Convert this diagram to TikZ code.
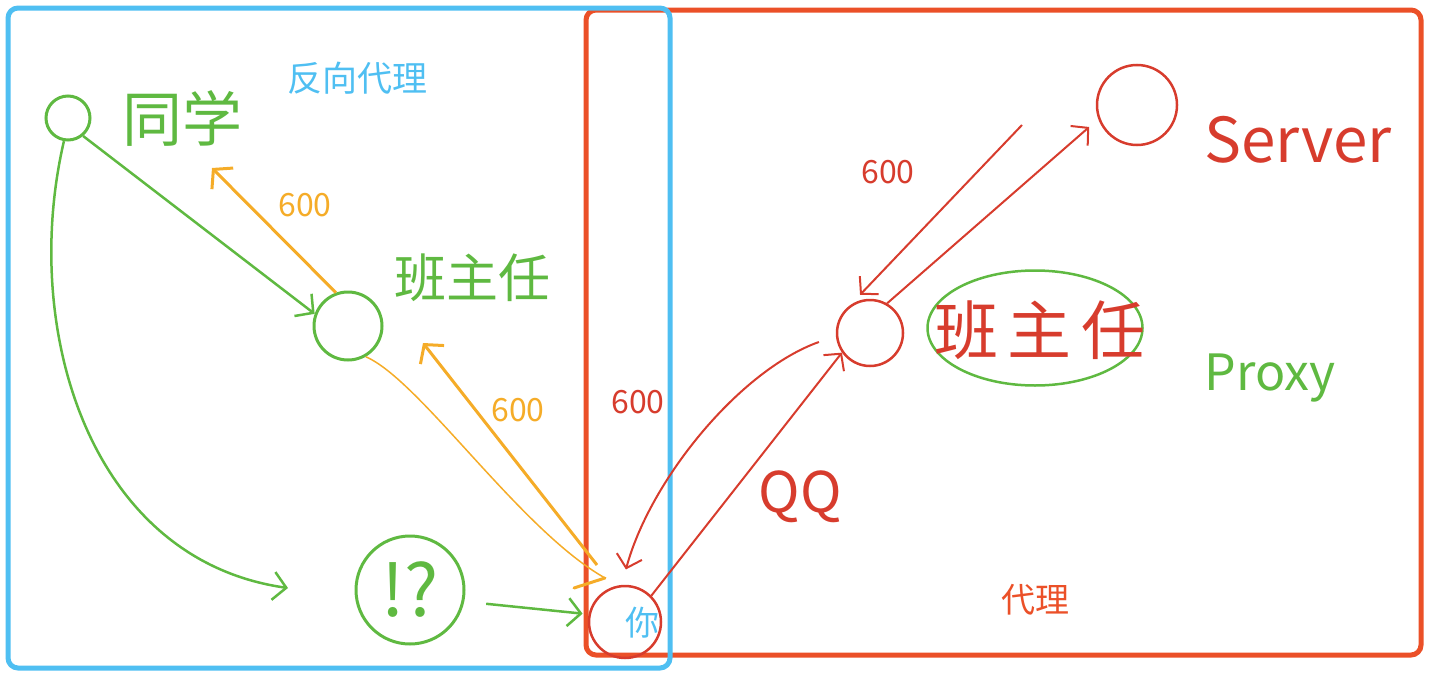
\documentclass[tikz,border=0pt]{standalone}
\usepackage{fontspec}
\newfontfamily\cjk{Noto Sans CJK SC}
\usetikzlibrary{arrows.meta, shapes.geometric, positioning}
\definecolor{bblue}{RGB}{79, 191, 242}
\definecolor{rframe}{RGB}{235, 80, 40}
\definecolor{grn}{RGB}{95, 185, 65}
\definecolor{org}{RGB}{245, 172, 40}
\definecolor{rpen}{RGB}{215, 60, 45}

\begin{document}
\begin{tikzpicture}[x=1pt, y=-1pt,
  txt/.style={font=\cjk\fontsize{#1pt}{#1pt}\selectfont, inner sep=0pt},
  gcirc/.style={circle, draw=grn, line width=3pt, inner sep=0pt},
  rcirc/.style={circle, draw=rpen, line width=2.5pt, inner sep=0pt},
  gline/.style={draw=grn, line width=2.5pt, -{Straight Barb[length=13pt, width=28pt]}},
  oline/.style={draw=org, line width=3pt, -{Straight Barb[length=13pt, width=30pt]}},
  rline/.style={draw=rpen, line width=2pt, -{Straight Barb[length=12pt, width=26pt]}}
]
  \useasboundingbox (0,0) rectangle (1448,680);

  % two frames
  \draw[rframe, line width=5pt, rounded corners=10pt] (586,10) rectangle (1421,655);
  \draw[bblue, line width=5pt, rounded corners=10pt] (8,8) rectangle (670,668);

  \node[txt=35, text=bblue] (fxdl) at (357,78) {反向代理};
  \node[txt=34, text=rframe] (dl) at (1035,600) {代理};

  % left side: reverse proxy
  \node[gcirc, minimum size=44pt] (tongxue) at (68,118) {};
  \node[txt=60, text=grn] (tongxueT) at (182,118) {同学};
  \node[gcirc, minimum size=68pt] (bzrL) at (348,326) {};
  \node[txt=52, text=grn] (bzrLT) at (472,278) {班主任};
  \node[gcirc, minimum size=108pt, txt=72, text=grn] (wenhao) at (410,590) {!?};

  % you
  \node[rcirc, minimum size=72pt] (ni) at (625,622) {};
  \node[txt=34, text=bblue] (niT) at (642,623) {你};

  % right side: proxy
  \node[rcirc, minimum size=66pt] (bzrR) at (870,333) {};
  \node[ellipse, draw=grn, line width=2.5pt, minimum width=215pt, minimum height=115pt] (quan) at (1035,328) {};
  \node[txt=64, text=rpen] (bzrRT) at (1040,330) {班\hspace{10pt}主\hspace{10pt}任};
  \node[txt=50, text=grn] (proxyT) at (1270,378) {Proxy};
  \node[rcirc, minimum size=80pt] (server) at (1137,105) {};
  \node[txt=62, text=rpen] (serverT) at (1298,140) {Server};

  % labels on the arrows
  \node[txt=32, text=org] (n600a) at (305,205) {600};
  \node[txt=32, text=org] (n600b) at (518,410) {600};
  \node[txt=32, text=rpen] (n600c) at (638,402) {600};
  \node[txt=32, text=rpen] (n600d) at (888,172) {600};
  \node[txt=56, text=rpen] (qq) at (800,497) {QQ};

  \coordinate (gEnd) at (288,588);
  \coordinate (oTop) at (212,168);
  \coordinate (oLow) at (597,565);
  \coordinate (oMid) at (423,343);
  \coordinate (oBend) at (605,578);
  \coordinate (oHook) at (574,588);
  \coordinate (sTop) at (1022,125);

  % green requests
  \draw[gline] (tongxue.-50) -- (bzrL.160);
  \draw[gline] (tongxue.-100) .. controls (20,330) and (90,560) .. (gEnd);
  \draw[gline, shorten <=22pt, shorten >=6pt] (wenhao.-12) -- (ni.168);

  % orange answers
  \draw[oline] (bzrL.110) -- (oTop);
  \draw[oline] (oLow) -- (oMid);
  \draw[org, line width=1.5pt] (bzrL.-60) .. controls (420,380) and (520,530) .. (oBend);
  \draw[org, line width=3pt, line cap=round] (oBend) -- (oHook);

  % red traffic through the proxy
  \draw[rline] (ni.45) -- (bzrR.215);
  \draw[rline, shorten <=18pt, shorten >=16pt] (bzrR.185) .. controls (740,370) and (650,480) .. (ni.95);
  \draw[rline, shorten >=12pt] (bzrR.60) -- (server.200);
  \draw[rline, shorten >=14pt] (sTop) -- (bzrR.125);
\end{tikzpicture}
\end{document}
